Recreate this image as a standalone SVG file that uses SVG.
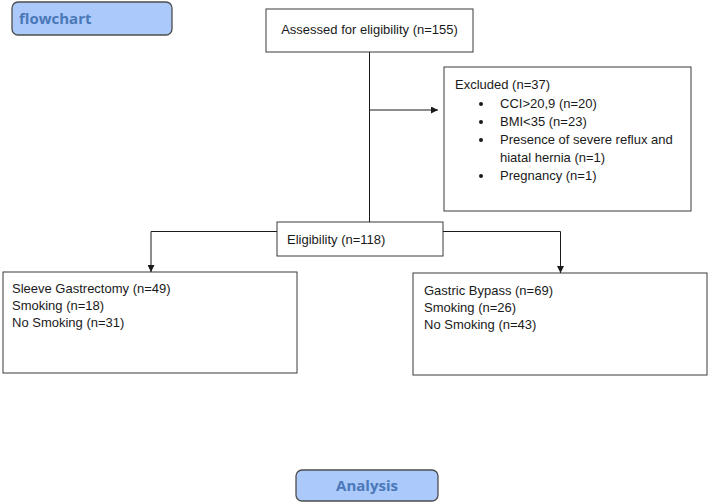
<svg xmlns="http://www.w3.org/2000/svg" width="709" height="504" viewBox="0 0 709 504">
<style>
.box{fill:#fff;stroke:#3a3a3a;stroke-width:1}
.t{font-family:"Liberation Sans",Arial,sans-serif;font-size:13px;fill:#1a1a1a}
.hdr{fill:#abc9fa;stroke:#4d4d4d;stroke-width:1.3}
.ht{font-family:"Open Sans","Noto Sans",sans-serif;font-size:15px;font-weight:bold;fill:#4a78b8}
.ln{fill:none;stroke:#1a1a1a;stroke-width:1}
</style>
<defs>
<marker id="ah" viewBox="0 0 10 10" refX="10" refY="5" markerWidth="7" markerHeight="7" markerUnits="userSpaceOnUse" orient="auto">
<path d="M0,0 L10,5 L0,10 z" fill="#1a1a1a"/>
</marker>
</defs>
<g id="flowchart">
<rect class="hdr" x="12" y="2" width="160" height="33" rx="6"/>
<text class="ht" x="19" y="24">flowchart</text>
</g>
<g id="assessed">
<rect class="box" x="266" y="9" width="207" height="43"/>
<text class="t" x="369.5" y="34" text-anchor="middle">Assessed for eligibility (n=155)</text>
</g>
<g id="excluded">
<rect class="box" x="444" y="67" width="247" height="144"/>
<text class="t" x="455" y="89">Excluded (n=37)</text>
<circle cx="481" cy="104" r="2" fill="#1a1a1a"/>
<text class="t" x="500" y="108">CCI&gt;20,9 (n=20)</text>
<circle cx="481" cy="122" r="2" fill="#1a1a1a"/>
<text class="t" x="500" y="126">BMI&lt;35 (n=23)</text>
<circle cx="481" cy="140" r="2" fill="#1a1a1a"/>
<text class="t" x="500" y="144">Presence of severe reflux and</text>
<text class="t" x="500" y="162">hiatal hernia (n=1)</text>
<circle cx="481" cy="176" r="2" fill="#1a1a1a"/>
<text class="t" x="500" y="180">Pregnancy (n=1)</text>
</g>
<g id="eligibility">
<rect class="box" x="277" y="222" width="166" height="34"/>
<text class="t" x="287" y="244">Eligibility (n=118)</text>
</g>
<g id="sleeve">
<rect class="box" x="3" y="272" width="294" height="101"/>
<text class="t" x="12" y="293">Sleeve Gastrectomy (n=49)</text>
<text class="t" x="12" y="310">Smoking (n=18)</text>
<text class="t" x="12" y="327">No Smoking (n=31)</text>
</g>
<g id="bypass">
<rect class="box" x="413" y="273" width="294" height="102"/>
<text class="t" x="424" y="295">Gastric Bypass (n=69)</text>
<text class="t" x="424" y="312">Smoking (n=26)</text>
<text class="t" x="424" y="329">No Smoking (n=43)</text>
</g>
<g id="analysis">
<rect class="hdr" x="296" y="470" width="142" height="31" rx="6"/>
<text class="ht" x="367" y="491" text-anchor="middle">Analysis</text>
</g>
<g id="connectors">
<path class="ln" d="M369.5,52 V222"/>
<path class="ln" d="M369.5,110 H438" marker-end="url(#ah)"/>
<path class="ln" d="M277,231.5 H151 V272" marker-end="url(#ah)"/>
<path class="ln" d="M443,231.5 H560.5 V273" marker-end="url(#ah)"/>
</g>
</svg>
